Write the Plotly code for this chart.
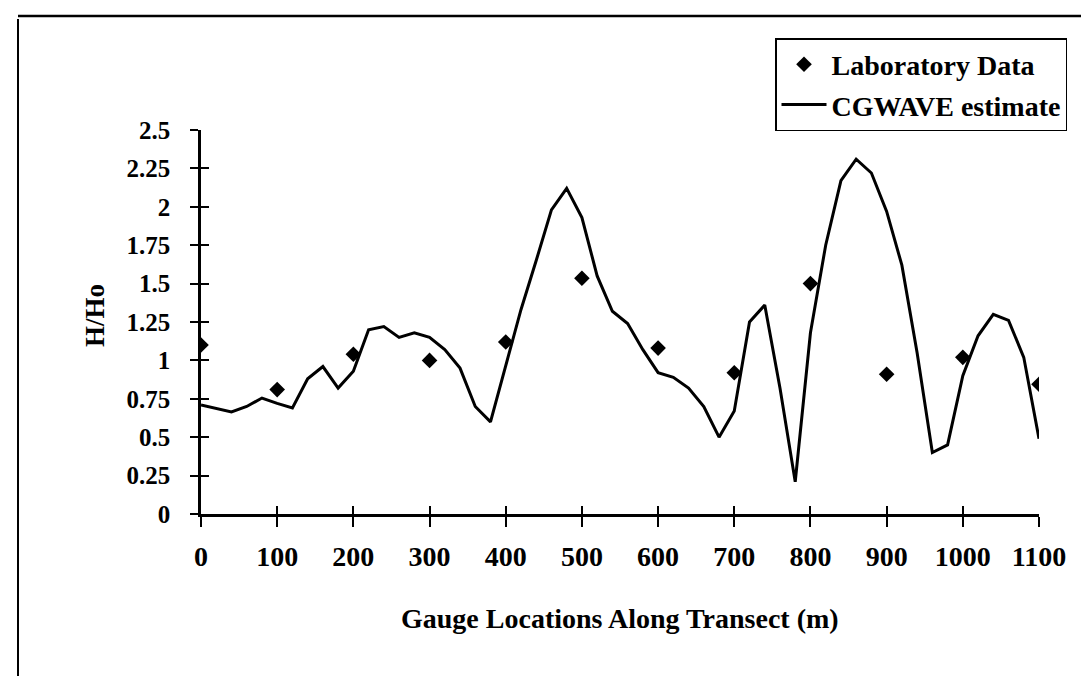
import plotly.graph_objects as go

# Laboratory data (diamonds)
lab_x = [0, 100, 200, 300, 400, 500, 600, 700, 800, 900, 1000, 1100]
lab_y = [1.10, 0.81, 1.04, 1.00, 1.12, 1.535, 1.08, 0.92, 1.50, 0.91, 1.02, 0.845]

# CGWAVE estimate (line)
cg_x = [0, 20, 40, 60, 80, 100, 120, 140, 160, 180, 200, 220, 240, 260, 280, 300,
        320, 340, 360, 380, 400, 420, 440, 460, 480, 500, 520, 540, 560, 580, 600,
        620, 640, 660, 680, 700, 720, 740, 760, 780, 800, 820, 840, 860, 880, 900,
        920, 940, 960, 980, 1000, 1020, 1040, 1060, 1080, 1100]
cg_y = [0.71, 0.69, 0.665, 0.70, 0.755, 0.72, 0.69, 0.88, 0.96, 0.82, 0.93, 1.20,
        1.22, 1.15, 1.18, 1.15, 1.07, 0.95, 0.70, 0.60, 0.97, 1.33, 1.65, 1.98,
        2.12, 1.93, 1.55, 1.32, 1.24, 1.07, 0.92, 0.89, 0.82, 0.70, 0.50, 0.67,
        1.25, 1.36, 0.82, 0.21, 1.18, 1.75, 2.17, 2.31, 2.22, 1.97, 1.62, 1.05,
        0.40, 0.45, 0.90, 1.16, 1.30, 1.26, 1.02, 0.49]

x_ticks = [0, 100, 200, 300, 400, 500, 600, 700, 800, 900, 1000, 1100]
y_ticks = [0, 0.25, 0.5, 0.75, 1, 1.25, 1.5, 1.75, 2, 2.25, 2.5]
y_tick_text = ["0", "0.25", "0.5", "0.75", "1", "1.25", "1.5", "1.75", "2", "2.25", "2.5"]

SERIF = "Liberation Serif, Times New Roman, serif"
W, H = 1089, 676
L, R, T, B = 193, 58, 122, 170
PW, PH = W - L - R, H - T - B

fig = go.Figure()
fig.add_trace(go.Scatter(x=lab_x, y=lab_y, mode="markers", name="<b>Laboratory Data</b>",
                         marker=dict(symbol="diamond", size=12, color="black"),
                         legendgroup="a"))
fig.add_trace(go.Scatter(x=cg_x, y=cg_y, mode="lines", name="<b>CGWAVE estimate</b>",
                         line=dict(color="black", width=3), legendgroup="b"))
# invisible trace to anchor the overlay axes that give the crossing tick marks
fig.add_trace(go.Scatter(x=cg_x, y=cg_y, mode="lines", xaxis="x2", yaxis="y2",
                         line=dict(color="rgba(0,0,0,0)", width=0), showlegend=False,
                         hoverinfo="skip"))

def px2paper_x(p):
    return (p - L) / PW

def px2paper_y(p):
    return (H - B - p) / PH

axis_common = dict(showgrid=False, zeroline=False, linecolor="black", tickcolor="black")

fig.update_layout(
    width=W, height=H,
    margin=dict(l=L, r=R, t=T, b=B, autoexpand=False),
    paper_bgcolor="white", plot_bgcolor="white",
    font=dict(family=SERIF, color="black"),
    xaxis=dict(range=[0, 1100], tickvals=x_ticks,
               ticktext=["<b>%d</b>" % v for v in x_ticks],
               ticks="outside", ticklen=10, tickwidth=2, showline=True, linewidth=2.5,
               tickfont=dict(size=28, family=SERIF), ticklabelstandoff=6, **axis_common),
    yaxis=dict(range=[0, 2.5], tickvals=y_ticks,
               ticktext=["<b>%s</b>" % t for t in y_tick_text],
               ticks="outside", ticklen=8, tickwidth=2, showline=True, linewidth=2.5,
               tickfont=dict(size=25, family=SERIF), ticklabelstandoff=15, **axis_common),
    xaxis2=dict(range=[0, 1100], overlaying="x", anchor="y2", tickvals=x_ticks,
                ticks="inside", ticklen=8, tickwidth=2, showticklabels=False,
                showline=False, **axis_common),
    yaxis2=dict(range=[0, 2.5], overlaying="y", anchor="x2", tickvals=y_ticks,
                ticks="inside", ticklen=8, tickwidth=2, showticklabels=False,
                showline=False, **axis_common),
    showlegend=True,
    legend=dict(x=px2paper_x(767), y=px2paper_y(30), xanchor="left", yanchor="top",
                bordercolor="black", borderwidth=1.5, bgcolor="white",
                font=dict(size=28, family=SERIF), traceorder="grouped",
                tracegroupgap=1, itemwidth=45),
    annotations=[
        dict(text="<b>Gauge Locations Along Transect (m)</b>", xref="paper", yref="paper",
             x=0.5, y=px2paper_y(610), xanchor="center", yanchor="middle",
             showarrow=False, font=dict(size=28, family=SERIF)),
        dict(text="<b>H/Ho</b>", xref="paper", yref="paper", x=px2paper_x(87),
             y=px2paper_y(308), xanchor="center", yanchor="middle", textangle=-90,
             showarrow=False, font=dict(size=27, family=SERIF)),
    ],
    shapes=[
        dict(type="line", xref="paper", yref="paper", x0=px2paper_x(10), x1=px2paper_x(10),
             y0=px2paper_y(11), y1=px2paper_y(675), line=dict(color="black", width=2)),
        dict(type="line", xref="paper", yref="paper", x0=px2paper_x(10), x1=px2paper_x(1089),
             y0=px2paper_y(8), y1=px2paper_y(8), line=dict(color="black", width=2.5)),
        dict(type="line", xref="paper", yref="paper", x0=px2paper_x(10), x1=px2paper_x(1089),
             y0=px2paper_y(675), y1=px2paper_y(675), line=dict(color="black", width=2)),
    ],
)

fig.write_html("out.html")
